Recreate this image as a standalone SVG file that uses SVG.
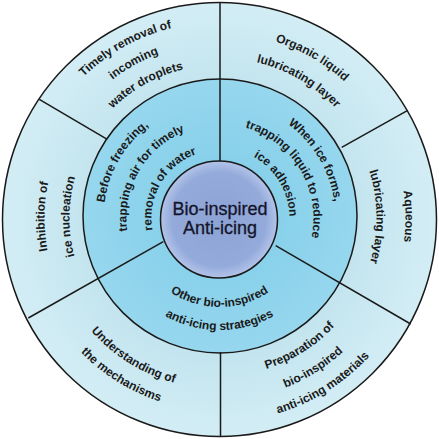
<svg xmlns="http://www.w3.org/2000/svg" xmlns:xlink="http://www.w3.org/1999/xlink" width="439" height="439" viewBox="0 0 439 439">
<style>
.ring{stroke:#1a1a1a;stroke-width:1.5}
.div{stroke:#1a1a1a;stroke-width:1.5;fill:none}
.t{font-family:"Liberation Sans",Arial,sans-serif;font-weight:bold;font-size:12px;fill:#1a1a1a}
.c{font-family:"Liberation Sans",Arial,sans-serif;font-size:18px;fill:#14142a;stroke:#14142a;stroke-width:0.3}
</style>
<defs>
<radialGradient id="gOuter" cx="219.5" cy="219.5" r="217" gradientUnits="userSpaceOnUse">
<stop offset="0.6" stop-color="#c2e4ee"/>
<stop offset="1" stop-color="#d3edf5"/>
</radialGradient>
<radialGradient id="gMid" cx="220" cy="216" r="137" gradientUnits="userSpaceOnUse">
<stop offset="0.4" stop-color="#88d0ea"/>
<stop offset="1" stop-color="#96d7ee"/>
</radialGradient>
<radialGradient id="gIn" cx="219" cy="219.5" r="58.5" gradientUnits="userSpaceOnUse">
<stop offset="0" stop-color="#8ca3d5"/>
<stop offset="0.8" stop-color="#93aada"/>
<stop offset="1" stop-color="#b3c4e9"/>
</radialGradient>
<!-- clockwise arcs (top, centered at -90deg) -->
<path id="cw196" d="M24.25 200.92 A196 196 0 0 1 414.75 200.92"/>
<path id="cw175" d="M45.17 202.75 A175 175 0 0 1 393.83 202.75"/>
<path id="cw153" d="M67.08 204.67 A153 153 0 0 1 371.92 204.67"/>
<path id="cw185" d="M35.2 201.88 A185 185 0 0 1 403.8 201.88"/>
<path id="cw160" d="M60.11 204.05 A160 160 0 0 1 378.89 204.05"/>
<path id="cw186" d="M34.21 201.79 A186 186 0 0 1 404.79 201.79"/>
<path id="cw157" d="M63.1 204.32 A157 157 0 0 1 375.9 204.32"/>
<path id="cw150" d="M70.07 204.93 A150 150 0 0 1 368.93 204.93"/>
<path id="cw116" d="M103.94 207.89 A116 116 0 0 1 335.06 207.89"/>
<path id="cw93" d="M126.85 209.89 A93 93 0 0 1 312.15 209.89"/>
<path id="cw68" d="M151.76 212.07 A68 68 0 0 1 287.24 212.07"/>
<path id="cw94" d="M125.86 209.81 A94 94 0 0 1 313.14 209.81"/>
<path id="cw70" d="M149.77 211.9 A70 70 0 0 1 289.23 211.9"/>
<!-- counter-clockwise arcs (bottom, centered at 90deg) -->
<path id="cc158" d="M62.1 231.77 A158 158 0 0 0 376.9 231.77"/>
<path id="cc182" d="M38.19 233.86 A182 182 0 0 0 400.81 233.86"/>
<path id="cc204" d="M16.28 235.78 A204 204 0 0 0 422.72 235.78"/>
<path id="cc171" d="M49.15 232.9 A171 171 0 0 0 389.85 232.9"/>
<path id="cc193" d="M27.24 234.82 A193 193 0 0 0 411.76 234.82"/>
<path id="cc89" d="M130.84 225.76 A89 89 0 0 0 308.16 225.76"/>
<path id="cc112" d="M107.92 227.76 A112 112 0 0 0 331.08 227.76"/>
</defs>

<g id="rings">
<circle class="ring" cx="219.5" cy="219.5" r="217" fill="url(#gOuter)"/>
<circle class="ring" cx="220" cy="216" r="137" fill="url(#gMid)"/>
</g>

<g id="connectors">
<line class="div" x1="220" y1="2.5" x2="220" y2="161"/>
<line class="div" x1="39.3" y1="99.3" x2="107.3" y2="139.3"/>
<line class="div" x1="341.7" y1="147.3" x2="407.3" y2="110.7"/>
<line class="div" x1="275.7" y1="245.7" x2="410.7" y2="324"/>
<line class="div" x1="163.3" y1="241.7" x2="28.3" y2="318"/>
<line class="div" x1="220.5" y1="352" x2="220.5" y2="436.5"/>
</g>

<g id="center">
<circle class="ring" cx="219" cy="219.5" r="58.5" fill="url(#gIn)"/>
<text class="c" x="220" y="214.5" text-anchor="middle">Bio-inspired</text>
<text class="c" x="220" y="234" text-anchor="middle">Anti-icing</text>
</g>

<g id="timely-removal" transform="rotate(-29 219.5 218)">
<text class="t" text-anchor="middle"><textPath xlink:href="#cw196" href="#cw196" startOffset="50%">Timely removal of</textPath></text>
<text class="t" text-anchor="middle"><textPath xlink:href="#cw175" href="#cw175" startOffset="50%">incoming</textPath></text>
<text class="t" text-anchor="middle"><textPath xlink:href="#cw153" href="#cw153" startOffset="50%">water droplets</textPath></text>
</g>

<g id="organic-liquid" transform="rotate(30 219.5 218)">
<text class="t" text-anchor="middle"><textPath xlink:href="#cw185" href="#cw185" startOffset="50%">Organic liquid</textPath></text>
<text class="t" text-anchor="middle"><textPath xlink:href="#cw160" href="#cw160" startOffset="50%">lubricating layer</textPath></text>
</g>

<g id="aqueous" transform="rotate(89.5 219.5 218)">
<text class="t" text-anchor="middle"><textPath xlink:href="#cw186" href="#cw186" startOffset="50%">Aqueous</textPath></text>
<text class="t" text-anchor="middle"><textPath xlink:href="#cw157" href="#cw157" startOffset="50%">lubricating layer</textPath></text>
</g>

<g id="preparation" transform="rotate(-32 219.5 218)">
<text class="t" text-anchor="middle"><textPath xlink:href="#cc158" href="#cc158" startOffset="50%">Preparation of</textPath></text>
<text class="t" text-anchor="middle"><textPath xlink:href="#cc182" href="#cc182" startOffset="50%">bio-inspired</textPath></text>
<text class="t" text-anchor="middle"><textPath xlink:href="#cc204" href="#cc204" startOffset="50%">anti-icing materials</textPath></text>
</g>

<g id="understanding" transform="rotate(32 219.5 218)">
<text class="t" text-anchor="middle"><textPath xlink:href="#cc171" href="#cc171" startOffset="50%">Understanding of</textPath></text>
<text class="t" text-anchor="middle"><textPath xlink:href="#cc193" href="#cc193" startOffset="50%">the mechanisms</textPath></text>
</g>

<g id="inhibition" transform="rotate(-89.5 219.5 218)">
<text class="t" text-anchor="middle"><textPath xlink:href="#cw175" href="#cw175" startOffset="50%">Inhibition of</textPath></text>
<text class="t" text-anchor="middle"><textPath xlink:href="#cw150" href="#cw150" startOffset="50%">ice nucleation</textPath></text>
</g>

<g id="before-freezing" transform="rotate(-60 219.5 218)">
<text class="t" text-anchor="middle"><textPath xlink:href="#cw116" href="#cw116" startOffset="50%">Before freezing,</textPath></text>
<text class="t" text-anchor="middle"><textPath xlink:href="#cw93" href="#cw93" startOffset="50%">trapping air for timely</textPath></text>
<text class="t" text-anchor="middle"><textPath xlink:href="#cw68" href="#cw68" startOffset="50%">removal of water</textPath></text>
</g>

<g id="when-ice-forms" transform="rotate(59 219.5 218)">
<text class="t" text-anchor="middle"><textPath xlink:href="#cw116" href="#cw116" startOffset="50%">When ice forms,</textPath></text>
<text class="t" text-anchor="middle"><textPath xlink:href="#cw94" href="#cw94" startOffset="50%">trapping liquid to reduce</textPath></text>
<text class="t" text-anchor="middle"><textPath xlink:href="#cw70" href="#cw70" startOffset="50%">ice adhesion</textPath></text>
</g>

<g id="other-strategies">
<text class="t" text-anchor="middle"><textPath xlink:href="#cc89" href="#cc89" startOffset="50%">Other bio-inspired</textPath></text>
<text class="t" text-anchor="middle"><textPath xlink:href="#cc112" href="#cc112" startOffset="50%">anti-icing strategies</textPath></text>
</g>
</svg>
